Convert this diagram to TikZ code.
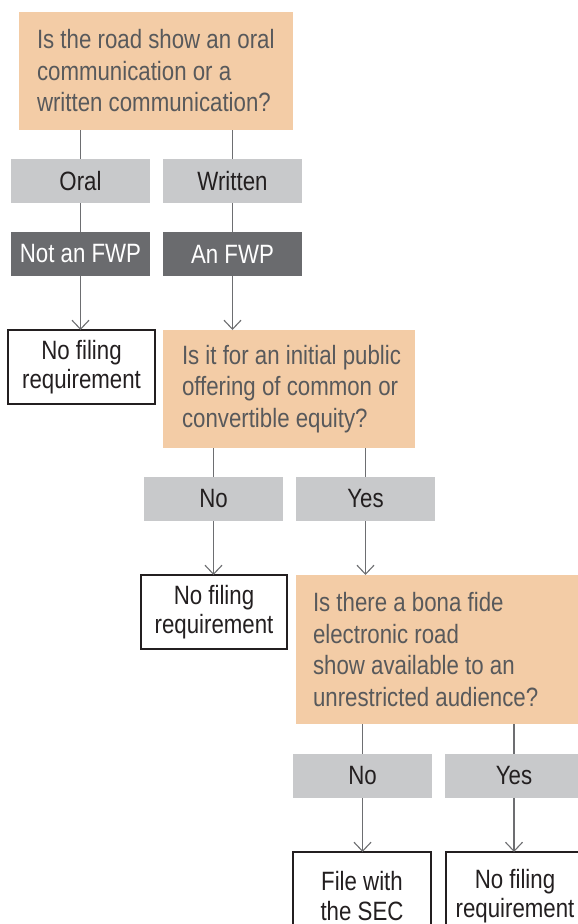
\documentclass[tikz,border=0pt]{standalone}
\usepackage{fontspec}
\setmainfont[FakeStretch=0.84]{Liberation Sans}
\usetikzlibrary{arrows.meta}
\definecolor{peach}{HTML}{F3CCA6}
\definecolor{chipgray}{HTML}{C8C9CB}
\definecolor{darkchip}{HTML}{6A6B6E}
\definecolor{qgray}{HTML}{58595B}
\definecolor{ink}{HTML}{231F20}
\definecolor{linegray}{HTML}{6D6E71}
\begin{document}
\begin{tikzpicture}[x=1pt,y=-1pt,
  every node/.style={inner sep=0pt, outer sep=0pt, font=\fontsize{26.5}{31.5}\selectfont},
  qbox/.style={rectangle, fill=peach},
  qtext/.style={anchor=west, align=left, text=qgray},
  choice/.style={rectangle, fill=chipgray, text=ink, minimum width=139pt, minimum height=44pt},
  verdict/.style={rectangle, fill=darkchip, text=white, minimum width=139pt, minimum height=44pt},
  outcome/.style={rectangle, draw=ink, line width=1.3pt, fill=white, text=ink, align=center,
    font=\fontsize{26.5}{29.5}\selectfont},
  link/.style={draw=linegray, line width=1.1pt},
  arr/.style={link, -{Straight Barb[length=9pt, width=17pt]}}
]
\useasboundingbox (0,0) rectangle (578,924);
\clip (0,0) rectangle (578,924);

% first question and its two branches
\node[qbox, minimum width=274pt, minimum height=118pt] (q1) at (156,71) {};
\node[qtext] (q1t) at ([xshift=18pt]q1.west) {Is the road show an oral\\communication or a\\written communication?};
\node[choice] (oral) at (80.5,181) {Oral};
\node[choice] (written) at (232.5,181) {Written};
\node[verdict] (notfwp) at (80.5,254) {Not an FWP};
\node[verdict] (anfwp) at (232.5,254) {An FWP};
\node[outcome, minimum width=147pt, minimum height=74pt] (nf1) at (81.5,367) {No filing\\requirement};

% second question
\node[qbox, minimum width=252pt, minimum height=118pt] (q2) at (289,389) {};
\node[qtext] (q2t) at ([xshift=19pt]q2.west) {Is it for an initial public\\offering of common or\\convertible equity?};
\node[choice] (no2) at (213.5,499) {No};
\node[choice] (yes2) at (365.5,499) {Yes};
\node[outcome, minimum width=146pt, minimum height=74pt] (nf2) at (214,612) {No filing\\requirement};

% third question
\node[qbox, minimum width=300pt, minimum height=149pt] (q3) at (446,649.5) {};
\node[qtext] (q3t) at ([xshift=17pt]q3.west) {Is there a bona fide\\electronic road\\show available to an\\unrestricted audience?};
\node[choice] (no3) at (362.5,776) {No};
\node[choice] (yes3) at (514,776) {Yes};
\node[outcome, minimum width=138pt, minimum height=88pt] (sec) at (362,896) {File with\\the SEC};
\node[outcome, minimum width=138pt, minimum height=88pt] (nf3) at (515,896) {No filing\\requirement};

% connectors
\draw[link] (q1.south -| oral.north) -- (oral.north);
\draw[link] (q1.south -| written.north) -- (written.north);
\draw[link] (oral.south) -- (notfwp.north);
\draw[link] (written.south) -- (anfwp.north);
\draw[arr] (notfwp.south) -- (notfwp.south |- nf1.north);
\draw[arr] (anfwp.south) -- (anfwp.south |- q2.north);
\draw[link] (q2.south -| no2.north) -- (no2.north);
\draw[link] (q2.south -| yes2.north) -- (yes2.north);
\draw[arr] (no2.south) -- (no2.south |- nf2.north);
\draw[arr] (yes2.south) -- (yes2.south |- q3.north);
\draw[link] (q3.south -| no3.north) -- (no3.north);
\draw[link] (q3.south -| yes3.north) -- (yes3.north);
\draw[arr] (no3.south) -- (no3.south |- sec.north);
\draw[arr] (yes3.south) -- (yes3.south |- nf3.north);
\end{tikzpicture}
\end{document}
